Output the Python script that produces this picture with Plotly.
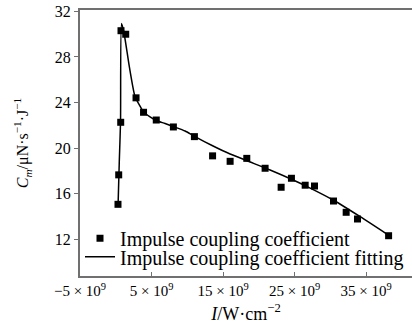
import plotly.graph_objects as go

# Measured impulse coupling coefficient (x in units of 10^9 W/cm^2)
intensity = [0.31, 0.41, 0.69, 0.73, 1.39, 2.83, 3.88, 5.66, 8.05, 10.99, 13.53,
             15.98, 18.31, 20.87, 23.11, 24.55, 26.47, 27.77, 30.43, 32.2, 33.78, 38.13]
coupling = [15.05, 17.64, 22.26, 30.31, 30.0, 24.41, 23.14, 22.46, 21.85, 21.0, 19.31,
            18.83, 19.09, 18.22, 16.55, 17.34, 16.73, 16.66, 15.34, 14.35, 13.76, 12.29]

# Fitted curve
fit_x = [0.315, 0.497, 0.664, 0.804, 1.154, 1.895, 2.692, 3.392, 3.881, 4.79, 5.63,
         6.89, 8.01, 9.69, 10.94, 13.46, 15.98, 18.78, 21.57, 24.79, 27.17, 30.38,
         34.16, 38.08]
fit_y = [14.81, 18.95, 22.29, 30.95, 30.11, 27.15, 24.51, 23.69, 23.16, 22.73, 22.42,
         22.15, 21.89, 21.49, 21.05, 20.22, 19.47, 18.77, 18.07, 17.19, 16.48, 15.43,
         13.96, 12.35]

x_tickvals = [-5, 5, 15, 25, 35]
x_ticktext = ["−5 × 10<sup>9</sup>", "5 × 10<sup>9</sup>", "15 × 10<sup>9</sup>",
              "25 × 10<sup>9</sup>", "35 × 10<sup>9</sup>"]
y_tickvals = [12, 16, 20, 24, 28, 32]

FONT = "Liberation Serif, Times New Roman, serif"
AXIS = "#707070"

fig = go.Figure()
fig.add_trace(go.Scatter(
    x=intensity, y=coupling, mode="markers",
    marker=dict(symbol="square", size=7, color="black"),
    name="Impulse coupling coefficient", legend="legend"))
fig.add_trace(go.Scatter(
    x=fit_x, y=fit_y, mode="lines",
    line=dict(color="black", width=1.5, shape="spline", smoothing=0.6),
    name="Impulse coupling coefficient fitting", legend="legend2"))

legend_common = dict(xanchor="left", yanchor="middle", bgcolor="rgba(0,0,0,0)",
                     font=dict(size=20, family=FONT), itemwidth=30)

fig.update_layout(
    width=412, height=328,
    margin=dict(l=80, r=0, t=10, b=52),
    paper_bgcolor="white", plot_bgcolor="white",
    font=dict(family=FONT, size=15, color="black"),
    showlegend=True,
    legend=dict(x=0.0, y=0.142, **legend_common),
    legend2=dict(x=0.0, y=0.072, **legend_common),
    xaxis=dict(range=[-5, 41.4], tickvals=x_tickvals, ticktext=x_ticktext,
               showgrid=False, zeroline=False, showline=True, linecolor=AXIS,
               linewidth=2, mirror=True, ticks="inside", ticklen=4,
               tickcolor=AXIS, tickfont=dict(size=15),
               title=dict(text="<i>I</i>/W·cm<sup>−2</sup>", font=dict(size=18),
                          standoff=9)),
    yaxis=dict(range=[8.75, 32.13], tickvals=y_tickvals,
               showgrid=False, zeroline=False, showline=True, linecolor=AXIS,
               linewidth=2, ticks="outside", ticklen=4, tickcolor=AXIS,
               tickfont=dict(size=16),
               title=dict(text="<i>C</i><sub><i>m</i></sub>/μN·s<sup>−1</sup>·J<sup>−1</sup>",
                          font=dict(size=16), standoff=22)),
)

fig.write_html("out.html")
